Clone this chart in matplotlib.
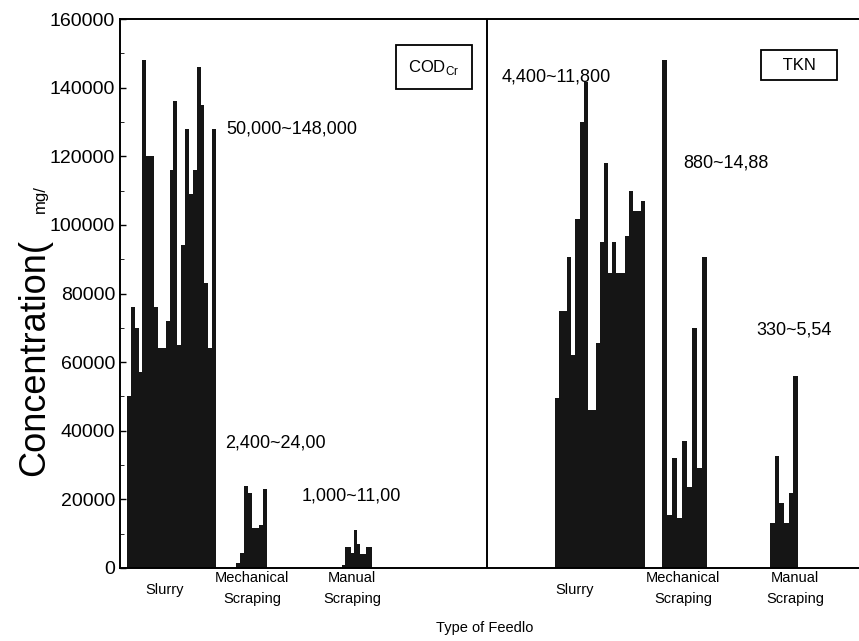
import matplotlib
matplotlib.use("Agg")
import matplotlib.pyplot as plt
import numpy as np

plt.rcParams['font.family'] = ['Liberation Sans', 'DejaVu Sans']

# bar heights (mg/L)
cod_slurry = [50000, 76000, 70000, 57000, 148000, 120000, 120000, 76000, 64000, 64000,
              72000, 116000, 136000, 65000, 94000, 128000, 109000, 116000, 146000, 135000,
              83000, 64000, 128000]
cod_mech = [1500, 4400, 24000, 22000, 11700, 11700, 12500, 23000]
cod_manual = [1000, 6000, 6000, 4400, 11000, 7000, 4000, 4000, 6000, 6000]
tkn_slurry = [49600, 74800, 74800, 90500, 62000, 101600, 130000, 141600, 46000, 46000,
              65700, 95000, 118000, 86000, 95000, 86000, 86000, 96700, 110000, 104000,
              104000, 107000]
tkn_mech = [148000, 15500, 32000, 14600, 36900, 23700, 70000, 29000, 90500]
tkn_manual = [13000, 32700, 19000, 13000, 21900, 56000]

ranges = ["50,000~148,000", "2,400~24,00", "1,000~11,00",
          "4,400~11,800", "880~14,88", "330~5,54"]
groups = ["Slurry", "Mechanical\nScraping", "Manual\nScraping",
          "Slurry", "Mechanical\nScraping", "Manual\nScraping"]
yticks = [0, 20000, 40000, 60000, 80000, 100000, 120000, 140000, 160000]

# layout: span of each group along the x axis (axis units ~ pixels)
spans = [(7, 96), (116, 147), (222, 252), (435, 525), (542, 587), (650, 678)]
range_pos = [(106, 128000), (105, 36500), (182, 21000), (382, 143000), (563, 118000), (636, 69500)]
label_x = [45, 132, 232, 455, 563, 675]

fig = plt.figure(figsize=(8.59, 6.41), dpi=100)
ax = fig.add_axes([120 / 859, 73 / 641, 745 / 859, 549 / 641])

series = [cod_slurry, cod_mech, cod_manual, tkn_slurry, tkn_mech, tkn_manual]
for vals, (a, b) in zip(series, spans):
    n = len(vals)
    w = (b - a) / n
    xs = a + w * np.arange(n)
    ax.bar(xs, vals, width=w, align='edge', color='#151515', edgecolor='none')

ax.axvline(367, color='black', lw=1.4)

for txt, (x, y) in zip(ranges, range_pos):
    ax.text(x, y, txt, fontsize=13, ha='left', va='center')

for txt, x in zip(groups, label_x):
    if "\n" in txt:
        ax.text(x, -6000, txt, fontsize=10.5, ha='center', va='center', linespacing=1.7)
    else:
        ax.text(x, -6500, txt, fontsize=10.5, ha='center', va='center')

ax.text(314, 146000, "COD$_\\mathregular{Cr}$", fontsize=12, ha='center', va='center',
        bbox=dict(boxstyle='square,pad=0.75', fc='white', ec='black', lw=1.3))
ax.text(679, 146500, "   TKN   ", fontsize=12, ha='center', va='center',
        bbox=dict(boxstyle='square,pad=0.45', fc='white', ec='black', lw=1.3))

ax.set_xlim(0, 745)
ax.set_ylim(0, 160000)
ax.set_yticks(yticks)
ax.set_yticklabels([str(v) for v in yticks], fontsize=14)
ax.set_yticks(np.arange(10000, 160000, 20000), minor=True)
ax.tick_params(axis='y', direction='in', length=4, width=1)
ax.tick_params(axis='y', which='minor', direction='in', length=3)
ax.set_xticks([])
for s in ['left', 'bottom', 'top']:
    ax.spines[s].set_linewidth(1.4)
ax.spines['right'].set_visible(False)

fig.text(485 / 859, 1 - 628 / 641, "Type of Feedlo", fontsize=10.5, ha='center', va='center')
fig.text(35 / 859, 1 - 357 / 641, "Concentration(", fontsize=26, rotation=90,
         ha='center', va='center')
fig.text(40 / 859, 1 - 199 / 641, "mg/", fontsize=12, rotation=90,
         ha='center', va='center')

fig.savefig("out.png", dpi=100)
